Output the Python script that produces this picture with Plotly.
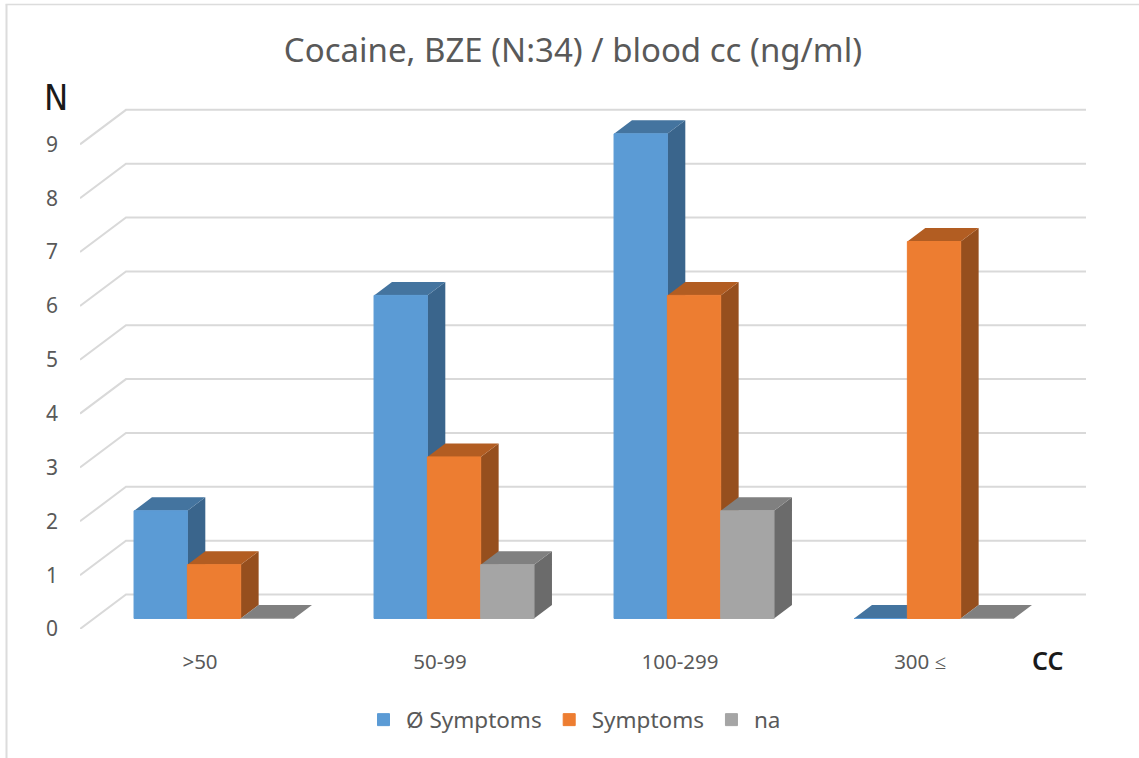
import plotly.graph_objects as go

categories = [">50", "50-99", "100-299", "300 ≤"]
no_symptoms = [2, 6, 9, 0]
symptoms = [1, 3, 6, 7]
na = [0, 1, 2, 0]
value_ticks = [0, 1, 2, 3, 4, 5, 6, 7, 8, 9]

series = [
    ("Ø Symptoms", no_symptoms, "#5b9bd5", "#3a658c", "#44749f"),
    ("Symptoms", symptoms, "#ed7d31", "#964f1e", "#b25d22"),
    ("na", na, "#a5a5a5", "#6b6b6b", "#808080"),
]

# Oblique projection in data units (one category = 240 px, one count = 53.85 px)
CAT_PX = 240.0
VAL_PX = 53.85
DEPTH_X = 46 / CAT_PX
DEPTH_Y = 34.5 / VAL_PX
NEAR = 0.305           # front face of the bars, as a share of the floor depth
BAR_DEPTH = 0.39       # bar depth as a share of the floor depth
BAR_W = 53.33 / CAT_PX

near_dx, near_dy = NEAR * DEPTH_X, NEAR * DEPTH_Y
bar_dx, bar_dy = BAR_DEPTH * DEPTH_X, BAR_DEPTH * DEPTH_Y

PLOT_L, PLOT_R, PLOT_T, PLOT_B = 80, 1090, 90, 629
x_lo = -0.5
x_hi = x_lo + (PLOT_R - PLOT_L) / CAT_PX
y_hi = (PLOT_B - PLOT_T) / VAL_PX
wall_right = x_lo + (1086 - PLOT_L) / CAT_PX

fig = go.Figure()

# Wall and floor gridlines
gx, gy = [], []
for v in value_ticks:
    gx += [x_lo, x_lo + DEPTH_X, wall_right, None]
    gy += [v, v + DEPTH_Y, v + DEPTH_Y, None]
fig.add_trace(go.Scatter(x=gx, y=gy, mode="lines", line=dict(color="#d9d9d9", width=2),
                         showlegend=False, hoverinfo="skip", cliponaxis=False, zorder=0))

for s, (name, values, front, side, top) in enumerate(series):
    left = [i + near_dx + (s - 1.5) * BAR_W for i in range(len(categories))]
    sx, sy, tx, ty = [], [], [], []
    for x0, v in zip(left, values):
        x1 = x0 + BAR_W
        y0, y1 = near_dy, near_dy + v
        if v > 0:
            sx += [x1, x1 + bar_dx, x1 + bar_dx, x1, x1, None]
            sy += [y0, y0 + bar_dy, y1 + bar_dy, y1, y0, None]
        tx += [x0, x0 + bar_dx, x1 + bar_dx, x1, x0, None]
        ty += [y1, y1 + bar_dy, y1 + bar_dy, y1, y1, None]
    fig.add_trace(go.Scatter(x=sx, y=sy, mode="lines", fill="toself", fillcolor=side,
                             line=dict(width=0), showlegend=False, hoverinfo="skip",
                             cliponaxis=False, zorder=2 * s + 1))
    fig.add_trace(go.Scatter(x=tx, y=ty, mode="lines", fill="toself", fillcolor=top,
                             line=dict(width=0), showlegend=False, hoverinfo="skip",
                             cliponaxis=False, zorder=2 * s + 1))
    fig.add_trace(go.Bar(name=name, x=[x + BAR_W / 2 for x in left], y=values,
                         base=[near_dy] * len(values), width=BAR_W,
                         marker=dict(color=front, line=dict(width=1, color=front)),
                         cliponaxis=False, zorder=2 * s + 2))

FONT = "Noto Sans"
span_x, span_y = PLOT_R - PLOT_L, PLOT_B - PLOT_T
fig.update_layout(
    width=1139, height=758, autosize=False,
    barmode="overlay",
    paper_bgcolor="white", plot_bgcolor="white",
    margin=dict(l=PLOT_L, r=1139 - PLOT_R, t=PLOT_T, b=758 - PLOT_B, pad=0),
    font=dict(family=FONT, color="#595959", size=18),
    title=dict(text="Cocaine, BZE (N:34) / blood cc (ng/ml)", x=573 / 1139, xanchor="center",
               y=1 - 50 / 758, yanchor="middle", font=dict(size=33, color="#595959", family=FONT)),
    xaxis=dict(range=[x_lo, x_hi], tickvals=list(range(len(categories))), ticktext=categories,
               showgrid=False, zeroline=False, showline=False, ticks="",
               ticklabelstandoff=18, tickfont=dict(size=20.5, color="#595959")),
    yaxis=dict(range=[0, y_hi], tickvals=value_ticks, showgrid=False, zeroline=False,
               showline=False, ticks="", ticklabelstandoff=21,
               tickfont=dict(size=21, color="#595959")),
    legend=dict(orientation="h", x=361 / 1139, xanchor="left", xref="container",
                y=1 - 720 / 758, yanchor="middle", yref="container", itemwidth=35,
                font=dict(size=22.5, color="#595959", family=FONT), traceorder="normal",
                bgcolor="rgba(0,0,0,0)"),
    annotations=[
        dict(text="N", xref="paper", yref="paper", x=(56 - PLOT_L) / span_x,
             y=(PLOT_B - 97) / span_y, showarrow=False, xanchor="center", yanchor="middle",
             font=dict(size=36, color="#1a1a1a", family="DejaVu Sans Condensed")),
        dict(text="CC", xref="paper", yref="paper", x=(1047 - PLOT_L) / span_x,
             y=(PLOT_B - 660) / span_y, showarrow=False, xanchor="center", yanchor="middle",
             font=dict(size=25, color="#1a1a1a", family=FONT, weight=600)),
    ],
    shapes=[
        dict(type="line", xref="paper", yref="paper",
             x0=(6.5 - PLOT_L) / span_x, x1=(6.5 - PLOT_L) / span_x,
             y0=(PLOT_B - 758) / span_y, y1=(PLOT_B - 4.5) / span_y,
             line=dict(color="#dcdcdc", width=2)),
        dict(type="line", xref="paper", yref="paper",
             x0=(5.5 - PLOT_L) / span_x, x1=(1139 - PLOT_L) / span_x,
             y0=(PLOT_B - 4.5) / span_y, y1=(PLOT_B - 4.5) / span_y,
             line=dict(color="#dcdcdc", width=1.5)),
    ],
)

fig.write_html("out.html", post_script="document.body.style.margin='0';",
               config=dict(displayModeBar=False))
